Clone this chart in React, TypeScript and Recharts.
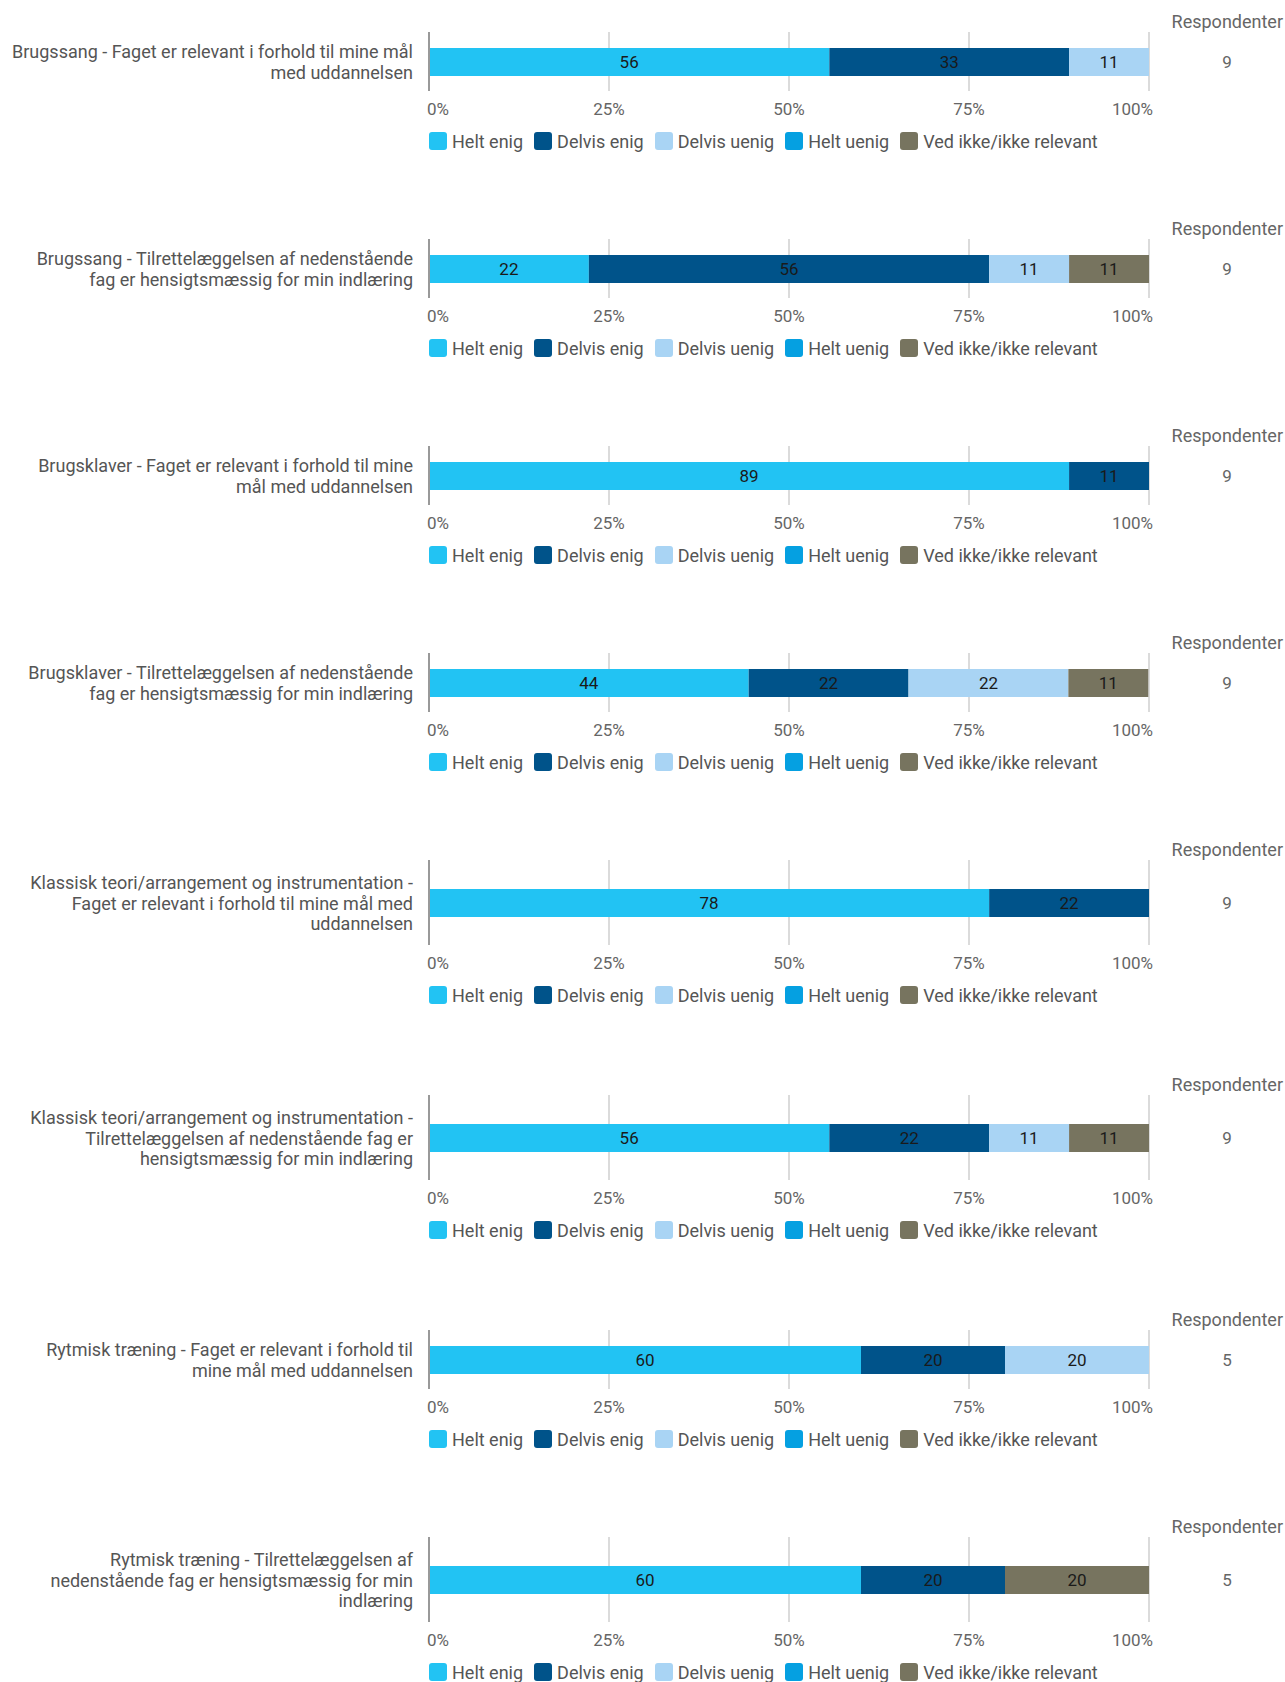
import { Bar, BarChart, CartesianGrid, LabelList, Legend, XAxis, YAxis } from "recharts";

// answer categories (legend order = stack order)
const seriesNames = ["Helt enig", "Delvis enig", "Delvis uenig", "Helt uenig", "Ved ikke/ikke relevant"];
const seriesKeys = ["heltEnig", "delvisEnig", "delvisUenig", "heltUenig", "vedIkke"];
const seriesColors = ["#22c3f3", "#00538a", "#a9d4f4", "#05a0e1", "#77745f"];

// question labels, split as in the survey report
const questionLabels = [
  ["Brugssang - Faget er relevant i forhold til mine mål", "med uddannelsen"],
  ["Brugssang - Tilrettelæggelsen af nedenstående", "fag er hensigtsmæssig for min indlæring"],
  ["Brugsklaver - Faget er relevant i forhold til mine", "mål med uddannelsen"],
  ["Brugsklaver - Tilrettelæggelsen af nedenstående", "fag er hensigtsmæssig for min indlæring"],
  ["Klassisk teori/arrangement og instrumentation -", "Faget er relevant i forhold til mine mål med", "uddannelsen"],
  ["Klassisk teori/arrangement og instrumentation -", "Tilrettelæggelsen af nedenstående fag er", "hensigtsmæssig for min indlæring"],
  ["Rytmisk træning - Faget er relevant i forhold til", "mine mål med uddannelsen"],
  ["Rytmisk træning - Tilrettelæggelsen af", "nedenstående fag er hensigtsmæssig for min", "indlæring"],
];

// share of answers in percent
const heltEnig = [55.6, 22.2, 88.9, 44.4, 77.8, 55.6, 60, 60];
const delvisEnig = [33.3, 55.6, 11.1, 22.2, 22.2, 22.2, 20, 20];
const delvisUenig = [11.1, 11.1, 0, 22.2, 0, 11.1, 20, 0];
const heltUenig = [0, 0, 0, 0, 0, 0, 0, 0];
const vedIkke = [0, 11.1, 0, 11.1, 0, 11.1, 0, 20];
const respondents = [9, 9, 9, 9, 9, 9, 5, 5];

const xTicks = [0, 25, 50, 75, 100];

const seriesValues = [heltEnig, delvisEnig, delvisUenig, heltUenig, vedIkke];

const FONT = "Roboto, Arial, sans-serif";
const CHART_WIDTH = 1285;
const PLOT_LEFT = 429;
const PLOT_RIGHT = 1149;
const TOP_PAD = 32;

type TickProps = {
  x?: number;
  y?: number;
  payload?: { value: number | string };
};

const PercentTick = ({ x = 0, y = 0, payload }: TickProps) => {
  const v = Number(payload?.value);
  const anchor = v === 0 ? "start" : v === 100 ? "end" : "middle";
  const dx = v === 0 ? -2 : v === 100 ? 4 : 0;
  return (
    <text x={x + dx} y={y + 24} textAnchor={anchor} fill="#666" fontSize={17} fontFamily={FONT}>
      {v}%
    </text>
  );
};

const makeQuestionTick = (lines: string[]) => ({ x = 0, y = 0 }: TickProps) => {
  const lineHeight = 20.5;
  const first = y - ((lines.length - 1) * lineHeight) / 2 + 7;
  return (
    <text x={x - 16} y={first} textAnchor="end" fill="#555" fontSize={18} fontFamily={FONT}>
      {lines.map((line, i) => (
        <tspan key={i} x={x - 16} y={first + i * lineHeight}>
          {line}
        </tspan>
      ))}
    </text>
  );
};

// legend drawn from the series arrays so the order stays as in the report
const LegendContent = () => (
  <div
    style={{
      display: "flex",
      paddingTop: 10,
      paddingLeft: PLOT_LEFT,
      height: 30,
      fontFamily: FONT,
      fontSize: 18,
      color: "#555",
    }}
  >
    {seriesNames.map((name, i) => (
      <div key={name} style={{ display: "flex", alignItems: "center", marginRight: 11, height: 20 }}>
        <span
          style={{
            display: "inline-block",
            width: 18,
            height: 18,
            borderRadius: 3,
            background: seriesColors[i],
            marginRight: 5,
          }}
        />
        <span>{name}</span>
      </div>
    ))}
  </div>
);

const Panel = ({ index }: { index: number }) => {
  const lines = questionLabels[index];
  const threeLine = lines.length > 2;
  const plotHeight = threeLine ? 85 : 59;
  const panelHeight = threeLine ? 235 : 207;
  const chartHeight = TOP_PAD + plotHeight + 30 + 40;

  const row: Record<string, number | string> = { name: lines.join(" ") };
  seriesKeys.forEach((key, i) => {
    row[key] = seriesValues[i][index];
  });

  return (
    <div style={{ position: "relative", height: panelHeight, width: CHART_WIDTH }}>
      <BarChart
        width={CHART_WIDTH}
        height={chartHeight}
        data={[row]}
        layout="vertical"
        margin={{ top: TOP_PAD, right: CHART_WIDTH - PLOT_RIGHT, bottom: 0, left: 0 }}
      >
        <CartesianGrid horizontal={false} stroke="#cfcfcf" strokeWidth={1.5} />
        <XAxis
          type="number"
          domain={[0, 100]}
          ticks={xTicks}
          axisLine={false}
          tickLine={false}
          tickSize={0}
          tickMargin={0}
          height={30}
          tick={<PercentTick />}
          interval={0}
        />
        <YAxis
          type="category"
          dataKey="name"
          width={PLOT_LEFT}
          axisLine={{ stroke: "#999", strokeWidth: 2 }}
          tickLine={false}
          tickSize={0}
          tickMargin={0}
          tick={makeQuestionTick(lines)}
        />
        <Legend
          verticalAlign="bottom"
          align="left"
          height={40}
          wrapperStyle={{ left: 0, width: CHART_WIDTH }}
          content={<LegendContent />}
        />
        {seriesKeys.map((key, i) => (
          <Bar
            key={key}
            dataKey={key}
            name={seriesNames[i]}
            stackId="a"
            fill={seriesColors[i]}
            barSize={28}
            isAnimationActive={false}
          >
            <LabelList
              dataKey={key}
              position="center"
              fill="#1a1a1a"
              fontSize={17}
              fontFamily={FONT}
              formatter={(v: unknown) => (Number(v) > 0 ? String(Math.round(Number(v))) : "")}
            />
          </Bar>
        ))}
      </BarChart>
      <div
        style={{
          position: "absolute",
          right: 2,
          top: TOP_PAD - 20,
          fontFamily: FONT,
          fontSize: 18,
          lineHeight: "20px",
          color: "#666",
        }}
      >
        Respondenter
      </div>
      <div
        style={{
          position: "absolute",
          left: 1167,
          width: 120,
          top: TOP_PAD + plotHeight / 2 - 10,
          textAlign: "center",
          fontFamily: FONT,
          fontSize: 17,
          lineHeight: "20px",
          color: "#666",
        }}
      >
        {respondents[index]}
      </div>
    </div>
  );
};

const App = () => (
  <div style={{ width: CHART_WIDTH, height: 1682, background: "#fff", overflow: "hidden" }}>
    <style>{`body { margin: 0; background: #fff; }`}</style>
    {questionLabels.map((_, i) => (
      <Panel key={i} index={i} />
    ))}
  </div>
);

export default App;
